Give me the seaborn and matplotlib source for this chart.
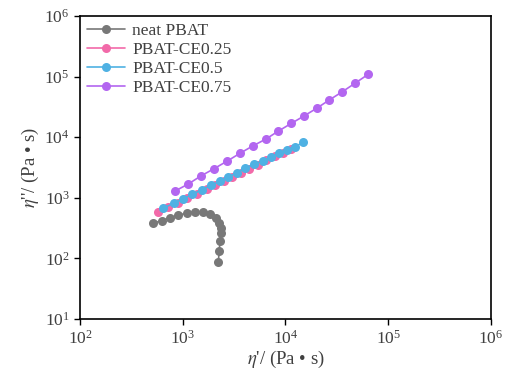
import matplotlib
matplotlib.use("Agg")
import matplotlib.pyplot as plt
import pandas as pd
import seaborn as sns

# values (eta' , eta'' in Pa·s)
neat_x = [513, 621, 751, 899, 1088, 1315, 1574, 1862, 2107, 2268, 2341, 2341, 2304, 2268, 2218]
neat_y = [377, 422, 464, 511, 561, 590, 576, 534, 459, 379, 314, 259, 196, 134, 88.3]

ce025_x = [578, 719, 899, 1112, 1376, 1703, 2083, 2521, 3049, 3689, 4462, 5400, 6534, 7905, 9456, 11310]
ce025_y = [583, 695, 830, 989, 1173, 1392, 1639, 1909, 2229, 2594, 3033, 3531, 4130, 4805, 5550, 6410]

ce05_x = [642, 813, 1006, 1244, 1539, 1884, 2304, 2787, 3350, 4034, 4936, 5998, 7178, 8705, 10411, 12378, 14894]
ce05_y = [671, 811, 963, 1143, 1361, 1603, 1879, 2197, 2594, 3069, 3572, 4047, 4659, 5425, 6146, 6970, 8240]

ce075_x = [841, 1132, 1499, 2014, 2714, 3607, 4795, 6458, 8545, 11440, 15140, 20120, 26680, 35480, 47470, 63940]
ce075_y = [1294, 1690, 2291, 3020, 4047, 5425, 7161, 9333, 12650, 16950, 22380, 29980, 41080, 55700, 77500, 109100]

labels = ["neat PBAT", "PBAT-CE0.25", "PBAT-CE0.5", "PBAT-CE0.75"]
colors = ["#787878", "#f26aa9", "#4fb1e3", "#b366f0"]

frames = []
for lab, xs, ys in zip(labels, [neat_x, ce025_x, ce05_x, ce075_x], [neat_y, ce025_y, ce05_y, ce075_y]):
    frames.append(pd.DataFrame({"x": xs, "y": ys, "sample": lab}))
df = pd.concat(frames, ignore_index=True)

sns.set_theme(style="ticks")
plt.rcParams["font.family"] = ["Liberation Serif", "DejaVu Serif"]
plt.rcParams["mathtext.fontset"] = "stix"

fig = plt.figure(figsize=(5.13, 3.71), dpi=100)
ax = fig.add_axes([0.156, 0.140, 0.801, 0.817])

sns.lineplot(data=df, x="x", y="y", hue="sample", hue_order=labels, palette=colors,
             estimator=None, sort=False, marker="o", markersize=6.5,
             markeredgewidth=0, linewidth=1.2, ax=ax)

ax.set_xscale("log")
ax.set_yscale("log")
ax.set_xlim(1e2, 1e6)
ax.set_ylim(1e1, 1e6)
ax.minorticks_off()

for s in ax.spines.values():
    s.set_visible(True)
    s.set_linewidth(1.2)
    s.set_color("black")
ax.tick_params(axis="both", which="major", direction="out", length=4, width=1,
               labelsize=12.5, colors="black", labelcolor="#404040")

ax.set_xlabel(r"$\eta$'/ (Pa • s)", fontsize=13.5, color="#404040", labelpad=1)
ax.set_ylabel(r"$\eta$''/ (Pa • s)", fontsize=13.5, color="#404040", labelpad=2)

handles, labs = ax.get_legend_handles_labels()
ax.legend(handles, labs, loc="upper left", frameon=False, fontsize=12.5,
          handlelength=2.2, handletextpad=0.4, labelspacing=0.16,
          borderpad=0.25, borderaxespad=0.15, labelcolor="#404040")

fig.savefig("out.png", dpi=100, facecolor="white")
